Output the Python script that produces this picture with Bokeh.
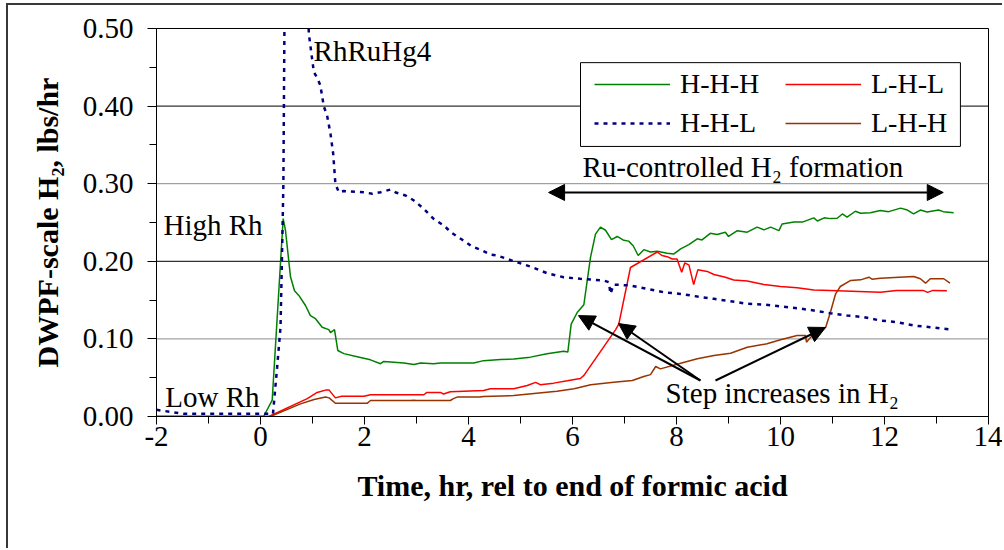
from bokeh.plotting import figure
from bokeh.models import (Range1d, FixedTicker, Span, Label, Arrow, NormalHead, BoxAnnotation,
                          Legend, LegendItem, NumeralTickFormatter)
from bokeh.embed import file_html
from bokeh.resources import INLINE

FONT = "Liberation Serif"

# ---------------- data ----------------
hhh_x = [-2, 0.06, 0.225, 0.436, 0.48, 0.577, 0.654, 0.737, 0.865, 0.96, 1.058, 1.186, 1.314, 1.346,
         1.423, 1.487, 1.603, 1.859, 2.115, 2.308, 2.37, 2.756, 2.95, 3.08, 3.33, 3.46, 4.10, 4.29,
         4.615, 4.87, 5.19, 5.51, 5.83, 5.91, 5.975, 6.09, 6.218, 6.346, 6.442, 6.538, 6.635, 6.75,
         6.86, 6.987, 7.08, 7.167, 7.263, 7.372, 7.5, 7.63, 7.82, 7.95, 8.08, 8.237, 8.4, 8.49, 8.65,
         8.78, 8.94, 9.0, 9.17, 9.36, 9.55, 9.68, 9.81, 9.97, 10.03, 10.26, 10.42, 10.64, 10.71,
         10.84, 10.96, 11.09, 11.19, 11.28, 11.44, 11.54, 11.73, 11.92, 12.08, 12.31, 12.44, 12.56,
         12.69, 12.82, 13.04, 13.13, 13.33]
hhh_y = [0, 0, 0.021, 0.255, 0.240, 0.180, 0.162, 0.156, 0.143, 0.130, 0.126, 0.115, 0.112, 0.108,
         0.112, 0.085, 0.081, 0.077, 0.073, 0.068, 0.071, 0.069, 0.067, 0.069, 0.068, 0.069, 0.069,
         0.072, 0.0735, 0.074, 0.0765, 0.081, 0.084, 0.083, 0.119, 0.134, 0.144, 0.205, 0.235, 0.244,
         0.240, 0.228, 0.232, 0.227, 0.226, 0.220, 0.2075, 0.215, 0.212, 0.213, 0.2105, 0.2095, 0.216,
         0.2215, 0.229, 0.2275, 0.236, 0.2345, 0.2375, 0.232, 0.2395, 0.2375, 0.244, 0.2405, 0.244,
         0.2395, 0.248, 0.2505, 0.2505, 0.256, 0.252, 0.256, 0.255, 0.2555, 0.261, 0.257, 0.2645,
         0.262, 0.2625, 0.2655, 0.264, 0.2685, 0.266, 0.261, 0.266, 0.2635, 0.266, 0.264, 0.2625]

lhl_x = [-2, 0.16, 0.9, 1.09, 1.25, 1.32, 1.44, 1.56, 1.99, 2.115, 3.14, 3.2, 3.46, 3.52, 3.65, 4.29,
         4.42, 4.87, 5.13, 5.29, 5.38, 5.64, 5.9, 6.15, 6.22, 6.83, 6.89, 7.115, 7.63, 7.72, 7.82,
         7.92, 8.01, 8.1, 8.16, 8.24, 8.33, 8.41, 8.59, 8.72, 8.94, 9.1, 9.36, 9.68, 10.0, 10.32,
         10.64, 10.96, 11.92, 12.23, 12.74, 12.83, 12.93, 13.2]
lhl_y = [0, 0, 0.023, 0.031, 0.034, 0.034, 0.024, 0.026, 0.026, 0.028, 0.028, 0.031, 0.031, 0.029,
         0.032, 0.0335, 0.0357, 0.0357, 0.040, 0.044, 0.041, 0.043, 0.046, 0.049, 0.053, 0.112, 0.119,
         0.192, 0.212, 0.2075, 0.206, 0.203, 0.203, 0.186, 0.198, 0.195, 0.170, 0.189, 0.187, 0.183,
         0.1795, 0.176, 0.1745, 0.170, 0.1675, 0.166, 0.163, 0.1625, 0.160, 0.1625, 0.1625, 0.160,
         0.1625, 0.162]

lhh_x = [-2, 0.19, 0.77, 1.03, 1.25, 1.32, 1.44, 2.05, 2.115, 2.88, 2.95, 3.0, 3.65, 3.71, 3.78, 4.22,
         4.29, 4.87, 5.7, 6.03, 6.35, 6.79, 7.15, 7.37, 7.5, 7.6, 7.69, 8.08, 8.4, 8.72, 9.04, 9.36,
         9.74, 10.0, 10.32, 10.48, 10.5, 10.58, 10.71, 10.87, 10.96, 11.06, 11.15, 11.35, 11.54, 11.7,
         11.76, 11.92, 12.56, 12.69, 12.79, 12.88, 13.14, 13.26]
lhh_y = [0, 0, 0.0163, 0.022, 0.025, 0.024, 0.017, 0.017, 0.0206, 0.0206, 0.021, 0.0206, 0.0206,
         0.023, 0.025, 0.025, 0.0257, 0.027, 0.0326, 0.0357, 0.041, 0.044, 0.0464, 0.0515, 0.054,
         0.0644, 0.0614, 0.0687, 0.0743, 0.0786, 0.0816, 0.0893, 0.0937, 0.0988, 0.1044, 0.1044,
         0.0958, 0.1023, 0.1057, 0.1151, 0.1344, 0.1581, 0.1675, 0.1753, 0.1761, 0.1795, 0.177,
         0.1782, 0.1804, 0.1775, 0.1718, 0.1775, 0.1775, 0.1718]

hhl_x = [-2, -1.47, 0.0, 0.24, 0.32, 0.385, 0.417, 0.44, 0.46, 0.47, 0.88, 0.93, 1.026, 1.09, 1.15,
         1.218, 1.28, 1.346, 1.398, 1.44, 1.506, 1.6, 1.99, 2.15, 2.31, 2.5, 2.6, 2.79, 2.95, 3.14,
         3.33, 3.525, 3.686, 3.88, 4.07, 4.23, 4.42, 4.55, 4.87, 5.19, 5.51, 5.83, 6.15, 6.6, 6.7,
         6.73, 6.79, 7.115, 7.44, 7.76, 8.08, 8.4, 8.72, 9.04, 9.36, 9.68, 10.0, 10.32, 10.64, 10.96,
         11.28, 11.6, 11.92, 12.24, 12.56, 12.88, 13.27]
hhl_y = [0.0086, 0.0034, 0.0034, 0.0034, 0.0636, 0.115, 0.218, 0.30, 0.50, 0.58, 0.58, 0.493, 0.4437,
         0.4365, 0.427, 0.3995, 0.388, 0.3643, 0.3385, 0.30, 0.289, 0.2906, 0.289, 0.287, 0.289,
         0.2925, 0.2887, 0.2848, 0.2784, 0.2676, 0.2547, 0.2461, 0.2362, 0.2277, 0.219, 0.215, 0.2088,
         0.2075, 0.2001, 0.1933, 0.1847, 0.1795, 0.1774, 0.1753, 0.173, 0.158, 0.170, 0.1688, 0.1645,
         0.160, 0.158, 0.1546, 0.1516, 0.1486, 0.1452, 0.1443, 0.1418, 0.1396, 0.1366, 0.1331,
         0.1302, 0.128, 0.1237, 0.1215, 0.1173, 0.115, 0.1121]

series_names = ["H-H-H", "L-H-L", "H-H-L", "L-H-H"]

x_ticks = [-2, 0, 2, 4, 6, 8, 10, 12, 14]
x_tick_labels = ["-2", "0", "2", "4", "6", "8", "10", "12", "14"]
x_minor_ticks = [-1, 1, 3, 5, 7, 9, 11, 13]
y_ticks = [0.0, 0.1, 0.2, 0.3, 0.4, 0.5]
y_tick_labels = ["0.00", "0.10", "0.20", "0.30", "0.40", "0.50"]
y_minor_ticks = [0.05, 0.15, 0.25, 0.35, 0.45]
grid_values = [0.1, 0.2, 0.3, 0.4]

# ---------------- figure ----------------
p = figure(width=996, height=545, output_backend="svg", toolbar_location=None,
           x_range=Range1d(-2, 14), y_range=Range1d(0, 0.5),
           min_border_left=148, min_border_right=16, min_border_top=23, min_border_bottom=134)
# outer chart border: only its left and top edges are inside the window
p.styles = {"margin-left": "6px", "margin-top": "3px",
            "border-left": "2px solid #383838", "border-top": "2px solid #383838"}
p.background_fill_color = "white"
p.border_fill_color = "white"
p.outline_line_color = "black"
p.outline_line_width = 1
p.outline_line_alpha = 1
p.grid.visible = False

grid_colors = ["#8c8c8c", "#000000", "#8c8c8c", "#000000"]
for v, c in zip(grid_values, grid_colors):
    p.add_layout(Span(location=v, dimension="width", line_color=c, line_width=1, level="underlay"))

# axes
xa = p.xaxis[0]
xa.ticker = FixedTicker(ticks=x_ticks, minor_ticks=x_minor_ticks)
xa.major_label_overrides = dict(zip(x_ticks, x_tick_labels))
ya = p.yaxis[0]
ya.ticker = FixedTicker(ticks=y_ticks, minor_ticks=y_minor_ticks)
ya.formatter = NumeralTickFormatter(format="0.00")
ya.major_label_overrides = dict(zip(y_ticks, y_tick_labels))
for ax in (xa, ya):
    ax.axis_line_color = "black"
    ax.axis_line_width = 1
    ax.major_tick_line_color = "black"
    ax.minor_tick_line_color = "black"
    ax.major_tick_in = 0
    ax.minor_tick_in = 0
    ax.major_label_text_font = FONT
    ax.major_label_text_font_size = "29px"
    ax.major_label_text_color = "black"
    ax.axis_label_text_font = FONT
    ax.axis_label_text_font_size = "30px"
    ax.axis_label_text_font_style = "bold"
    ax.axis_label_text_color = "black"
xa.major_tick_out = 8
xa.minor_tick_out = 7
ya.major_tick_out = 9
ya.minor_tick_out = 7
xa.major_label_standoff = 2
ya.major_label_standoff = 14
xa.axis_label = "Time, hr, rel to end of formic acid"
ya.axis_label = "DWPF-scale H\u2082, lbs/hr"
xa.axis_label_standoff = 20
ya.axis_label_standoff = 16

# lines
r_hhh = p.line(hhh_x, hhh_y, line_color="#008000", line_width=1.5)
r_lhl = p.line(lhl_x, lhl_y, line_color="#ff0000", line_width=1.5)
r_lhh = p.line(lhh_x, lhh_y, line_color="#993300", line_width=1.5)
r_hhl = p.line(hhl_x, hhl_y, line_color="#000080", line_width=2.5, line_dash="4 5")

# legend: white framed box with two item columns
p.add_layout(BoxAnnotation(left=6.154, right=13.46, bottom=0.348, top=0.456,
                           fill_color="white", fill_alpha=1,
                           line_color="black", line_width=1, line_alpha=1, level="annotation"))

def make_legend(items, x_off):
    lg = Legend(items=items, location=(x_off, 277))
    lg.label_text_font = FONT
    lg.label_text_font_size = "28px"
    lg.label_text_color = "black"
    lg.glyph_width = 76
    lg.glyph_height = 20
    lg.label_standoff = 10
    lg.label_height = 30
    lg.spacing = 7
    lg.padding = 0
    lg.margin = 0
    lg.border_line_alpha = 0
    lg.background_fill_alpha = 0
    return lg

p.add_layout(make_legend([LegendItem(label=series_names[0], renderers=[r_hhh]),
                          LegendItem(label=series_names[2], renderers=[r_hhl])], 438))
p.add_layout(make_legend([LegendItem(label=series_names[1], renderers=[r_lhl]),
                          LegendItem(label=series_names[3], renderers=[r_lhh])], 629))

# annotations
def add_label(x, y, text):
    p.add_layout(Label(x=x, y=y, text=text, text_font=FONT, text_font_size="29px",
                       text_color="black", text_baseline="alphabetic", text_align="left"))

add_label(1.02, 0.4704, "RhRuHg4")
add_label(-1.865, 0.2474, "High Rh")
add_label(-1.83, 0.0245, "Low Rh")
add_label(6.19, 0.3209, "Ru-controlled H\u2082 formation")
add_label(7.79, 0.0309, "Step increases in H\u2082")

def head():
    return NormalHead(size=16, fill_color="black", line_color="black")

p.add_layout(Arrow(start=head(), end=head(), x_start=5.54, y_start=0.2887, x_end=13.13, y_end=0.2887,
                   line_color="black", line_width=2))
p.add_layout(Arrow(end=head(), x_start=8.46, y_start=0.0464, x_end=6.115, y_end=0.130,
                   line_color="black", line_width=2))
p.add_layout(Arrow(end=head(), x_start=8.46, y_start=0.0464, x_end=6.885, y_end=0.1198,
                   line_color="black", line_width=2))
p.add_layout(Arrow(end=head(), x_start=8.75, y_start=0.0464, x_end=10.865, y_end=0.1147,
                   line_color="black", line_width=2))

open("out.html", "w").write(file_html(p, INLINE))
